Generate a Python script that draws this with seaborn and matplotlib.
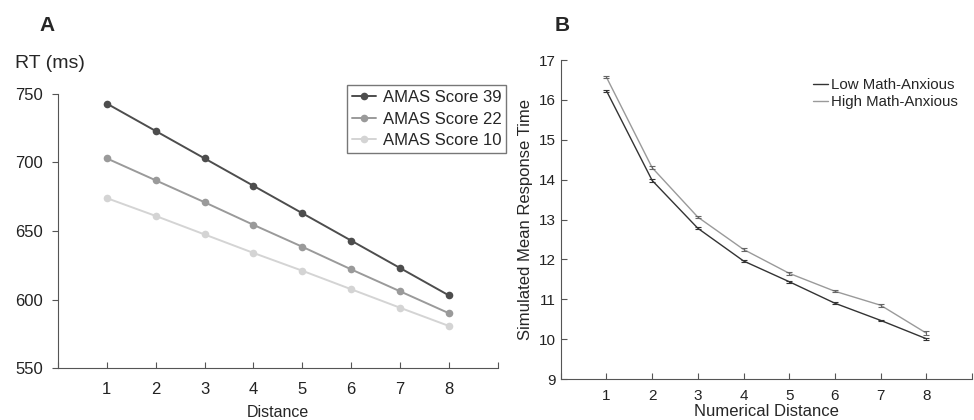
import pandas as pd
import matplotlib.pyplot as plt
import seaborn as sns

# Panel A data
distance = [1, 2, 3, 4, 5, 6, 7, 8]
amas_39 = [743, 723, 703, 683, 663, 643, 623, 603]
amas_22 = [703, 687, 671, 654.5, 638.5, 622, 606, 590]
amas_10 = [674, 661, 647.5, 634, 621, 607.5, 594, 580.7]

# Panel B data
num_distance = [1, 2, 3, 4, 5, 6, 7, 8]
low_anx = [16.23, 13.98, 12.78, 11.96, 11.44, 10.90, 10.47, 10.01]
high_anx = [16.57, 14.30, 13.06, 12.25, 11.65, 11.20, 10.85, 10.15]
low_err = [0.03, 0.03, 0.03, 0.02, 0.02, 0.02, 0.02, 0.02]
high_err = [0.03, 0.03, 0.03, 0.03, 0.03, 0.03, 0.04, 0.05]

sns.set_style("ticks")
plt.rcParams['font.family'] = ['Liberation Sans', 'DejaVu Sans']
plt.rcParams['axes.edgecolor'] = '#555555'
plt.rcParams['xtick.color'] = '#555555'
plt.rcParams['ytick.color'] = '#555555'
plt.rcParams['xtick.labelcolor'] = '#222222'
plt.rcParams['ytick.labelcolor'] = '#222222'

fig = plt.figure(figsize=(9.74, 4.2), dpi=100)

# ---- Panel A ----
axA = fig.add_axes([0.0595, 0.1238, 0.4515, 0.6524])
dfA = pd.DataFrame({
    'Distance': distance * 3,
    'RT': amas_39 + amas_22 + amas_10,
    'Group': ['AMAS Score 39'] * 8 + ['AMAS Score 22'] * 8 + ['AMAS Score 10'] * 8,
})
sns.lineplot(data=dfA, x='Distance', y='RT', hue='Group',
             palette=['#4d4d4d', '#9a9a9a', '#d4d4d4'],
             marker='o', markersize=5.5, markeredgewidth=0, linewidth=1.4,
             ax=axA)
axA.set_xlim(0, 9)
axA.set_ylim(550, 750)
axA.set_xticks(range(0, 10))
axA.set_xticklabels([''] + [str(d) for d in distance] + [''])
axA.set_yticks([550, 600, 650, 700, 750])
axA.tick_params(axis='x', direction='in', length=4, labelsize=12, pad=10)
axA.tick_params(axis='y', direction='out', length=4, labelsize=12, pad=7)
axA.set_xlabel('Distance', fontsize=11.5, labelpad=6)
axA.set_ylabel('')
sns.despine(ax=axA)
leg = axA.legend(loc='upper left', bbox_to_anchor=(0.657, 1.033), fontsize=12,
                 frameon=True, fancybox=False, edgecolor='#555555',
                 handlelength=1.45, handletextpad=0.4, labelspacing=0.4,
                 borderpad=0.3, borderaxespad=0)
leg.get_frame().set_linewidth(1.0)
fig.text(0.015, 0.85, 'RT (ms)', fontsize=14, va='center', ha='left')
fig.text(0.048, 0.94, 'A', fontsize=15, fontweight='bold', va='center', ha='center')

# ---- Panel B ----
axB = fig.add_axes([0.5757, 0.0976, 0.4223, 0.7595])
dfB = pd.DataFrame({
    'Numerical Distance': num_distance * 2,
    'RT': low_anx + high_anx,
    'Group': ['Low Math-Anxious'] * 8 + ['High Math-Anxious'] * 8,
})
sns.lineplot(data=dfB, x='Numerical Distance', y='RT', hue='Group',
             palette=['#333333', '#9a9a9a'], linewidth=1.0, ax=axB)
axB.errorbar(num_distance, low_anx, yerr=low_err, fmt='none', ecolor='#333333',
             elinewidth=0.8, capsize=2.5, capthick=0.8)
axB.errorbar(num_distance, high_anx, yerr=high_err, fmt='none', ecolor='#666666',
             elinewidth=0.8, capsize=2.5, capthick=0.8)
axB.set_xlim(0, 9)
axB.set_ylim(9, 17)
axB.set_xticks(range(0, 10))
axB.set_xticklabels([''] + [str(d) for d in num_distance] + [''])
axB.set_yticks(range(9, 18))
axB.tick_params(axis='both', direction='in', length=4, labelsize=11)
axB.tick_params(axis='x', pad=7)
axB.set_xlabel('Numerical Distance', fontsize=12, labelpad=1)
axB.set_ylabel('Simulated Mean Response Time', fontsize=12, labelpad=4)
sns.despine(ax=axB)
axB.legend(loc='upper left', bbox_to_anchor=(0.599, 0.962), fontsize=10.8,
           frameon=False, handlelength=1.0, handletextpad=0.2,
           labelspacing=0.2, borderaxespad=0)
fig.text(0.577, 0.94, 'B', fontsize=15, fontweight='bold', va='center', ha='center')

fig.savefig('out.png', dpi=100)
